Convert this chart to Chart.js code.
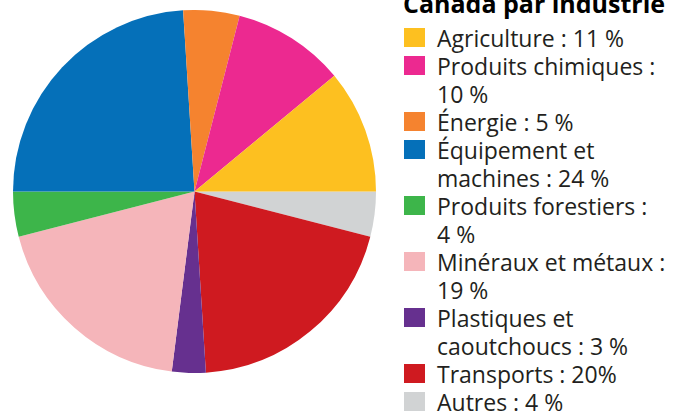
<!DOCTYPE html>
<html>
<head>
<meta charset="utf-8">
<script src="https://cdn.jsdelivr.net/npm/chart.js@4"></script>
<style>
  body { margin: 0; width: 675px; height: 418px; background: #fff; overflow: hidden; position: relative; font-family: "Open Sans", Lato, sans-serif; }
  #pieBox { position: absolute; left: 13px; top: 10px; width: 363px; height: 363px; }
  #title { position: absolute; left: 403px; top: -11px; font-size: 25px; font-weight: 700; color: #000; white-space: nowrap; line-height: 28px; }
  #legend { position: absolute; left: 404px; top: 24px; font-size: 23px; line-height: 28px; color: #231f20; }
  .item { position: relative; padding-left: 33px; white-space: pre; }
  .sw { position: absolute; left: 0; top: 4px; width: 21px; height: 19px; }
</style>
</head>
<body>
<div id="title">Canada par industrie</div>
<div id="pieBox"><canvas id="chart"></canvas></div>
<div id="legend"></div>
<script>
// Data, in legend order (counterclockwise from 3 o'clock in the pie)
const categories = ['Agriculture', 'Produits chimiques', 'Énergie', 'Équipement et machines',
  'Produits forestiers', 'Minéraux et métaux', 'Plastiques et caoutchoucs', 'Transports', 'Autres'];
const shares = [11, 10, 5, 24, 4, 19, 3, 20, 4];
const legendText = ['Agriculture : 11 %', 'Produits chimiques :\n10 %', 'Énergie : 5 %',
  'Équipement et\nmachines : 24 %', 'Produits forestiers :\n4 %', 'Minéraux et métaux :\n19 %',
  'Plastiques et\ncaoutchoucs : 3 %', 'Transports : 20%', 'Autres : 4 %'];
const colors = ['#fdc020', '#ec2990', '#f5832f', '#0570b9', '#3db54a', '#f5b5ba', '#66308f', '#cf1a20', '#d1d3d4'];

// Legend
const legend = document.getElementById('legend');
categories.forEach((c, i) => {
    const div = document.createElement('div');
    div.className = 'item';
    const sw = document.createElement('span');
    sw.className = 'sw';
    sw.style.background = colors[i];
    div.appendChild(sw);
    div.appendChild(document.createTextNode(legendText[i]));
    legend.appendChild(div);
});

// Chart.js draws clockwise, so reverse to get the counterclockwise order
const ctx = document.getElementById('chart').getContext('2d');
new Chart(ctx, {
    type: 'pie',
    data: {
        labels: categories.slice().reverse(),
        datasets: [{
            data: shares.slice().reverse(),
            backgroundColor: colors.slice().reverse(),
            borderWidth: 0
        }]
    },
    options: {
        responsive: true,
        maintainAspectRatio: false,
        animation: false,
        rotation: 90,
        layout: { padding: 0 },
        plugins: { legend: { display: false }, tooltip: { enabled: false } }
    }
});
</script>
</body>
</html>
